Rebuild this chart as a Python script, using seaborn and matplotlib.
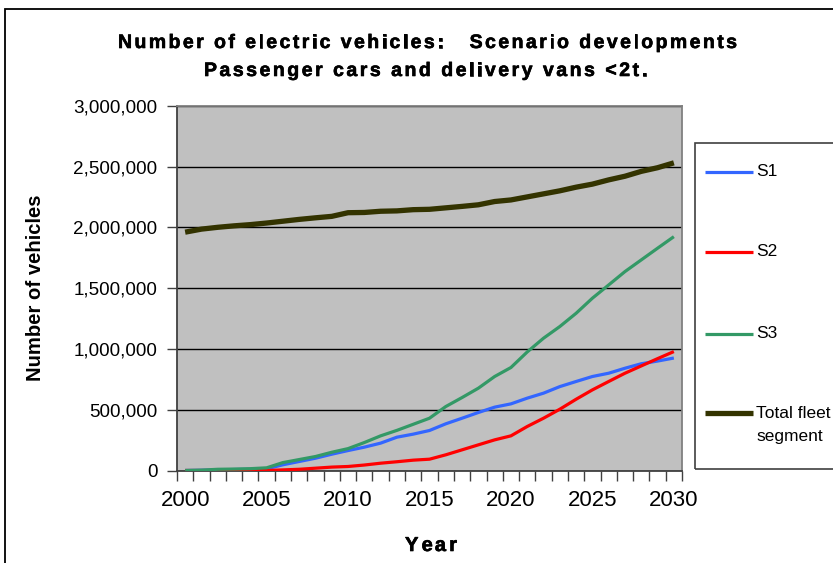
import matplotlib
matplotlib.use("Agg")
import matplotlib.pyplot as plt
from matplotlib.lines import Line2D
from matplotlib.patches import Rectangle
from matplotlib.font_manager import FontProperties
from matplotlib.textpath import TextPath
import matplotlib.patheffects as pe
import numpy as np
import pandas as pd
import seaborn as sns

# ---- data -------------------------------------------------------------
years = list(range(2000, 2031))

s1 = [0, 2000, 5000, 8000, 10000, 14000, 47000, 74000, 101000, 134000,
      164000, 192000, 225000, 274000, 299000, 329000, 384000, 430000,
      477000, 521000, 548000, 595000, 636000, 690000, 732000, 773000,
      800000, 841000, 878000, 900000, 925000]

s2 = [0, 0, 0, 0, 0, 0, 5000, 10000, 19000, 28000,
      33000, 45000, 60000, 72000, 85000, 93000, 129000, 170000,
      211000, 252000, 285000, 362000, 430000, 504000, 586000, 663000,
      732000, 800000, 860000, 920000, 978000]

s3 = [0, 3000, 10000, 12000, 15000, 22000, 65000, 90000, 115000, 150000,
      180000, 230000, 285000, 330000, 380000, 430000, 526000, 600000,
      677000, 773000, 847000, 975000, 1088000, 1184000, 1293000, 1417000,
      1526000, 1636000, 1732000, 1828000, 1923000]

total_fleet = [1960000, 1985000, 2000000, 2012000, 2022000, 2035000, 2050000,
               2065000, 2078000, 2090000, 2120000, 2122000, 2132000, 2135000,
               2145000, 2148000, 2160000, 2172000, 2185000, 2212000, 2225000,
               2250000, 2275000, 2300000, 2330000, 2355000, 2390000, 2420000,
               2460000, 2490000, 2530000]

series_names = ["S1", "S2", "S3", "Total fleet\nsegment"]
series_values = [s1, s2, s3, total_fleet]
series_colors = ["#3366FF", "#FF0000", "#339966", "#333300"]
series_widths = [2.3, 2.3, 2.3, 3.8]

y_ticks = [0, 500000, 1000000, 1500000, 2000000, 2500000, 3000000]
x_label_years = [2000, 2005, 2010, 2015, 2020, 2025, 2030]

title_lines = ["Number of electric vehicles:   Scenario developments",
               "Passenger cars and delivery vans <2t."]

# ---- figure -----------------------------------------------------------
W, H = 833, 563
DPI = 100
fig = plt.figure(figsize=(W / DPI, H / DPI), dpi=DPI)
fig.patch.set_facecolor("white")


def fx(px):
    return px / W


def fy(py):
    return 1 - py / H


def spaced_text(cx, baseline, s, size, width):
    """Bold text centred on cx, with tracking widened to span `width` px."""
    prop = FontProperties(family="Liberation Sans", weight="bold", size=size)
    scale = DPI / 72.0

    def adv(t):
        # advance of t in pixels, measured against a trailing bar glyph
        return (TextPath((0, 0), t + "|", prop=prop).get_extents().x1
                - TextPath((0, 0), "|", prop=prop).get_extents().x1) * scale

    offsets = [adv(s[:k]) for k in range(len(s))]
    natural = adv(s)
    extra = (width - natural) / (len(s) - 1)
    x0 = cx - width / 2
    heavy = [pe.withStroke(linewidth=0.45, foreground="black")]
    for k, c in enumerate(s):
        if c != " ":
            fig.text(fx(x0 + offsets[k] + extra * k), fy(baseline), c,
                     ha="left", va="baseline", fontproperties=prop,
                     path_effects=heavy)


ax = fig.add_axes([fx(177), fy(470.5), fx(682) - fx(177), fy(105.7) - fy(470.5)])
ax.set_facecolor("#C0C0C0")

# category positions: one slot per year
pos = np.arange(len(years))
for name, vals, col, lw in zip(series_names, series_values, series_colors, series_widths):
    df = pd.DataFrame({"pos": pos, "value": vals})
    sns.lineplot(data=df, x="pos", y="value", ax=ax, color=col, linewidth=lw,
                 solid_capstyle="butt", solid_joinstyle="round", zorder=3)

ax.set_xlim(-0.5, len(years) - 0.5)
ax.set_ylim(0, 3000000)

# gridlines
ax.set_yticks(y_ticks)
ax.set_yticklabels([f"{v:,.0f}" for v in y_ticks], fontsize=13.6,
                   family="Liberation Sans")
ax.yaxis.grid(True, color="black", linewidth=1.0, zorder=1)
ax.xaxis.grid(False)
ax.set_axisbelow(True)
ax.tick_params(axis="y", length=7, width=1, color="#404040", pad=7,
               direction="out")

# tick marks between categories, year labels centred on categories
ax.set_xticks(np.arange(-0.5, len(years), 1.0))
ax.set_xticklabels([])
ax.tick_params(axis="x", which="major", length=7, width=1, color="#404040",
               direction="out")
ax.set_xticks([years.index(y) for y in x_label_years], minor=True)
ax.set_xticklabels([str(y) for y in x_label_years], minor=True,
                   fontsize=16, family="Liberation Sans")
ax.tick_params(axis="x", which="minor", length=0, pad=14)

for side in ["left", "bottom"]:
    ax.spines[side].set_color("#404040")
    ax.spines[side].set_linewidth(1.3)
for side in ["top", "right"]:
    ax.spines[side].set_color("#808080")
    ax.spines[side].set_linewidth(1.3)

ax.set_xlabel("")
ax.set_ylabel("")

# axis titles
fig.text(fx(36), fy(287.5), "Number of vehicles", rotation=90, ha="center",
         va="center", fontsize=14.6, fontweight="bold", family="Liberation Sans")
spaced_text(431, 551, "Year", 14.5, 52)

# chart title
spaced_text(427.5, 48, title_lines[0], 14, 619)
spaced_text(425.5, 76, title_lines[1], 14, 443)

# outer chart border
fig.patches.append(Rectangle((fx(5), fy(H + 20)), fx(W + 40) - fx(5),
                             fy(9) - fy(H + 20), transform=fig.transFigure,
                             fill=False, edgecolor="black", linewidth=1.3))

# legend box
fig.patches.append(Rectangle((fx(695), fy(469)), fx(W + 40) - fx(695),
                             fy(143) - fy(469), transform=fig.transFigure,
                             fill=False, edgecolor="#404040", linewidth=1.2))
legend_rows = [172, 252, 334, 413]
for name, col, lw, ry in zip(series_names, series_colors, series_widths, legend_rows):
    fig.lines.append(Line2D([fx(705), fx(753)], [fy(ry), fy(ry)],
                            transform=fig.transFigure, color=col,
                            linewidth=lw, solid_capstyle="butt"))
    for k, part in enumerate(name.split("\n")):
        fig.text(fx(756), fy(ry + 24 * k), part, ha="left", va="center",
                 fontsize=12.5, family="Liberation Sans")

fig.savefig("out.png", dpi=DPI)
